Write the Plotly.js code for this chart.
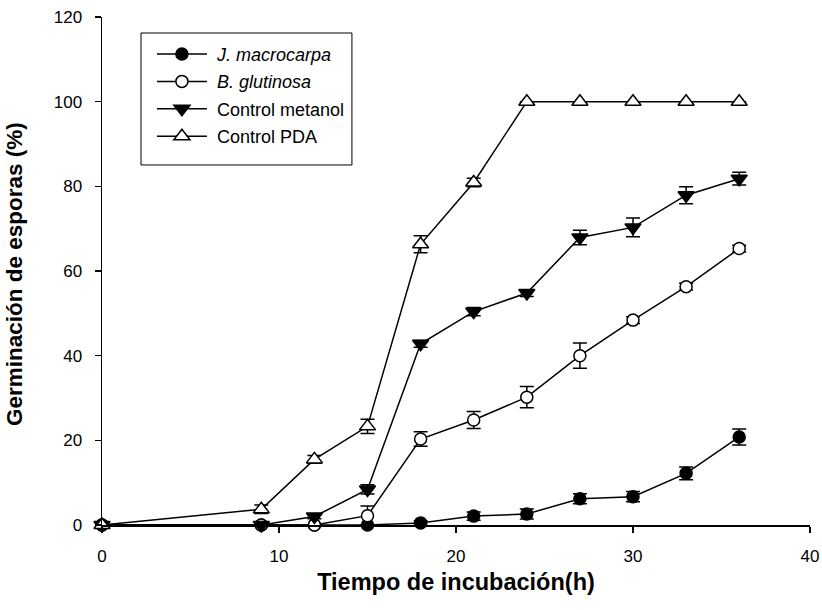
<!DOCTYPE html>
<html>
<head>
<meta charset="utf-8">
<script src="https://cdn.plot.ly/plotly-3.0.1.min.js"></script>
<style>html,body{margin:0;padding:0;background:#fff}#chart{width:822px;height:610px}</style>
</head>
<body>
<div id="chart"></div>
<script>
const hours = [0, 9, 12, 15, 18, 21, 24, 27, 30, 33, 36];
const macrocarpa = [0, 0, 0, 0, 0.5, 2.1, 2.6, 6.2, 6.7, 12.2, 20.8];
const macrocarpaErr = [0, 0, 0, 0, 0.5, 1, 1.2, 1.2, 1.2, 1.5, 1.9];
const glutinosa = [0, 0, 0, 2.2, 20.3, 24.8, 30.2, 40, 48.4, 56.3, 65.3];
const glutinosaErr = [0, 0, 0, 2.3, 1.7, 2, 2.5, 3, 0.8, 0.8, 0.8];
const metanol = [0, 0, 2, 8.4, 42.8, 50.4, 54.8, 67.9, 70.3, 77.9, 81.8];
const metanolErr = [0, 0, 0.5, 1.1, 0.8, 1, 0.8, 1.7, 2.2, 2, 1.5];
const pda = [0, 3.7, 15.5, 23.3, 66.3, 80.9, 100, 100, 100, 100, 100];
const pdaErr = [0, 1, 0.9, 1.7, 2, 1, 0, 0, 0, 0, 0];

const FONT = 'Arial, "Liberation Sans", sans-serif';

function series(name, group, y, err, symbol, fill, size) {
  return {
    x: hours, y: y, name: name, legendgroup: group, type: 'scatter', mode: 'lines+markers',
    line: {color: '#000', width: 1.5},
    marker: {symbol: symbol, size: size, color: fill, line: {color: '#000', width: 1.5}},
    error_y: {type: 'data', array: err, visible: true, color: '#000', thickness: 1.5, width: 7},
    cliponaxis: false
  };
}

const traces = [
  series('&nbsp;<i>J. macrocarpa</i>', 'a', macrocarpa, macrocarpaErr, 'circle', '#000', 12),
  series('&nbsp;<i>B. glutinosa</i>', 'b', glutinosa, glutinosaErr, 'circle', '#fff', 12),
  series('&nbsp;Control metanol', 'c', metanol, metanolErr, 'triangle-down', '#000', 14),
  series('&nbsp;Control PDA', 'd', pda, pdaErr, 'triangle-up', '#fff', 14)
];

const layout = {
  width: 822, height: 610,
  paper_bgcolor: '#fff', plot_bgcolor: '#fff',
  margin: {l: 102, r: 12, t: 17, b: 85},
  font: {family: FONT, color: '#000', size: 17},
  showlegend: true,
  legend: {
    x: 0.0705, y: 0.963, xanchor: 'left', yanchor: 'top',
    borderwidth: 0, bgcolor: 'rgba(0,0,0,0)',
    font: {family: FONT, size: 18, color: '#000'},
    itemwidth: 50,
    tracegroupgap: 1
  },
  shapes: [{
    type: 'rect', xref: 'paper', yref: 'paper',
    x0: 0.0551, x1: 0.353, y0: 0.7087, y1: 0.9685,
    line: {color: '#000', width: 1}, fillcolor: 'rgba(0,0,0,0)', layer: 'above'
  }],
  xaxis: {
    range: [0, 40], dtick: 10, tick0: 0,
    showline: true, linecolor: '#000', linewidth: 1.5,
    ticks: 'outside', ticklen: 6, tickcolor: '#000', tickwidth: 1.5,
    showgrid: false, zeroline: false,
    tickfont: {family: FONT, size: 17},
    ticklabelstandoff: 9,
    title: {text: '<b>Tiempo de incubación(h)</b>', font: {family: FONT, size: 23.5}, standoff: 8}
  },
  yaxis: {
    range: [0, 120], dtick: 20, tick0: 0,
    showline: true, linecolor: '#000', linewidth: 1.5,
    ticks: 'outside', ticklen: 6, tickcolor: '#000', tickwidth: 1.5,
    showgrid: false, zeroline: false,
    tickfont: {family: FONT, size: 17},
    ticklabelstandoff: 9,
    title: {text: '<b>Germinación de esporas (%)&nbsp;</b>', font: {family: FONT, size: 22.5}, standoff: 25}
  }
};

Plotly.newPlot('chart', traces, layout, {displayModeBar: false, staticPlot: true});
</script>
</body>
</html>
